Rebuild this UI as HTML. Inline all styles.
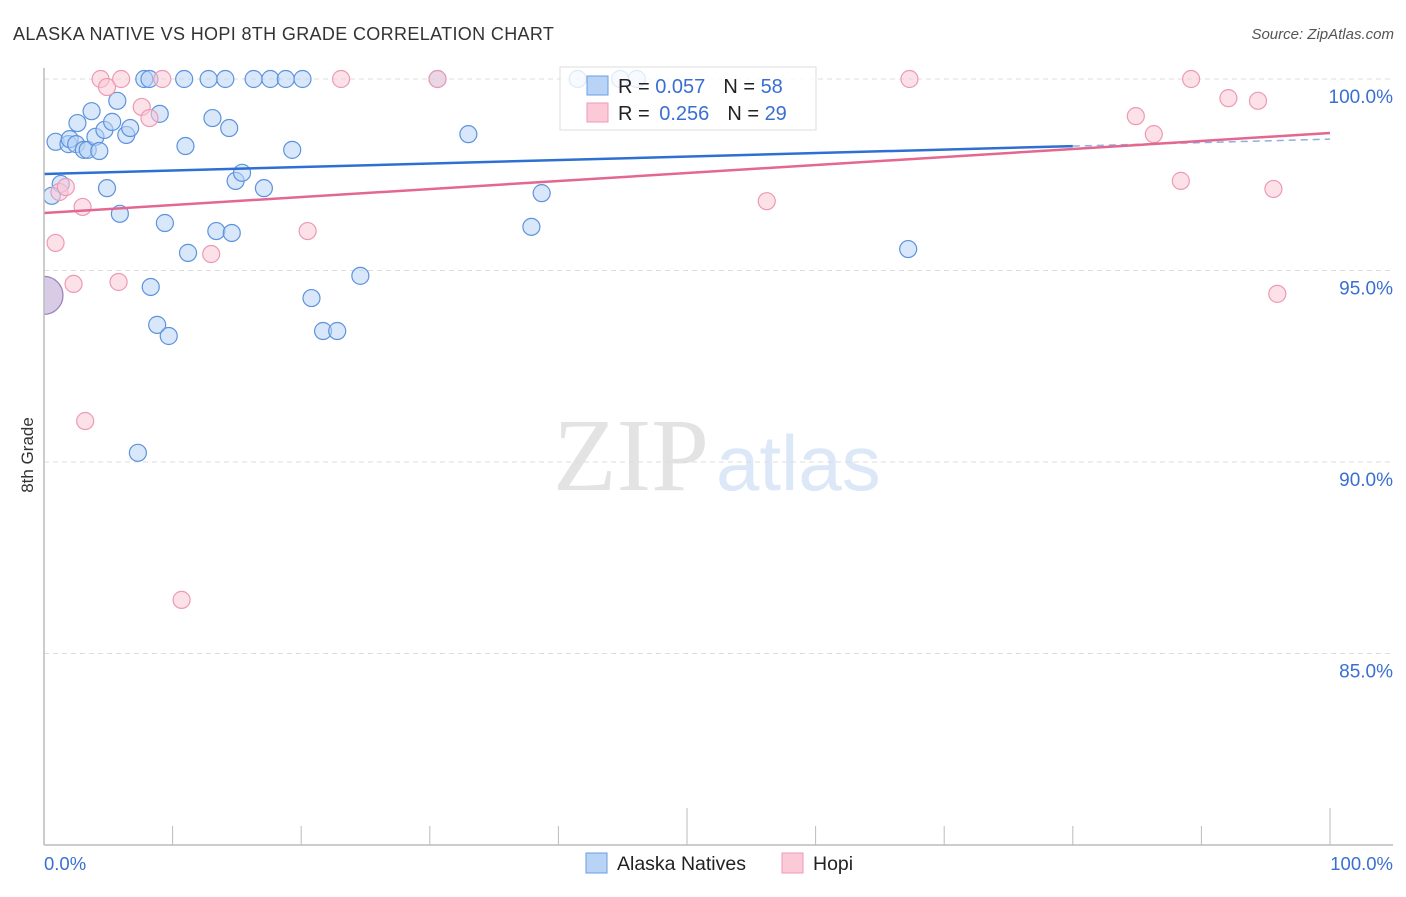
<!DOCTYPE html>
<html><head><meta charset="utf-8"><style>
body{margin:0;background:#fff;width:1406px;height:892px;overflow:hidden;font-family:"Liberation Sans",sans-serif}
</style></head><body>
<svg id="chart" width="1406" height="892" xmlns="http://www.w3.org/2000/svg">
<defs><clipPath id="plotclip"><rect x="44" y="50" width="1360" height="800"/></clipPath></defs>
<text x="13" y="40" font-size="18" fill="#333" letter-spacing="0.35">ALASKA NATIVE VS HOPI 8TH GRADE CORRELATION CHART</text>
<text x="1394" y="39" font-size="15" fill="#555" font-style="italic" text-anchor="end">Source: ZipAtlas.com</text>
<text x="553" y="490" font-family="Liberation Serif,serif" font-size="104" fill="#e3e3e3">ZIP</text>
<text x="716" y="490" font-size="78" fill="#dce8f7">atlas</text>
<text transform="translate(33,455) rotate(-90)" font-size="17" fill="#333" text-anchor="middle">8th Grade</text>
<g id="grid"></g><g id="ticks"></g><g id="marks" clip-path="url(#plotclip)"></g>
<line x1="44" y1="68" x2="44" y2="845" stroke="#bbb" stroke-width="1.5"/>
<line x1="44" y1="845" x2="1393" y2="845" stroke="#bbb" stroke-width="1.5"/>
<g>
<rect x="560" y="67" width="256" height="63" fill="#fff" fill-opacity="0.8" stroke="#ddd"/>
<rect x="587" y="76" width="21" height="19" fill="#b8d3f5" stroke="#6a9de0"/>
<text x="618" y="93" font-size="20" fill="#222">R = <tspan fill="#3a6fd1">0.057</tspan><tspan dx="18">N = </tspan><tspan fill="#3a6fd1">58</tspan></text>
<rect x="587" y="103" width="21" height="19" fill="#fbc9d7" stroke="#ec9ab4"/>
<text x="618" y="120" font-size="20" fill="#222">R = <tspan fill="#3a6fd1" dx="4">0.256</tspan><tspan dx="18">N = </tspan><tspan fill="#3a6fd1">29</tspan></text>
</g>
<text x="44" y="870" font-size="18.5" fill="#3a6fd1">0.0%</text>
<text x="1393" y="870" font-size="18.5" fill="#3a6fd1" text-anchor="end">100.0%</text>
<g>
<rect x="586" y="853" width="21" height="20" fill="#b8d3f5" stroke="#6a9de0"/>
<text x="617" y="870" font-size="19.5" fill="#222">Alaska Natives</text>
<rect x="782" y="853" width="21" height="20" fill="#fbc9d7" stroke="#ec9ab4"/>
<text x="813" y="870" font-size="19.5" fill="#222">Hopi</text>
</g>
</svg>
<script>
const yTicks=[100,95,90,85];
const xTickVals=[0,10,20,30,40,50,60,70,80,90,100];
const blueX=[0.9,1.3,0.6,1.9,2.0,2.5,2.6,3.1,3.4,3.7,4.0,4.3,4.7,4.9,5.3,5.7,5.9,6.4,6.7,7.3,7.8,8.2,8.3,8.8,9.0,9.4,9.7,10.9,11.0,11.2,12.8,13.1,13.4,14.1,14.4,14.6,14.9,15.4,16.3,17.1,17.6,18.8,19.3,20.1,20.8,21.7,22.8,24.6,30.6,33.0,37.9,38.7,41.5,44.8,46.1,67.2];
const blueY=[98.36,97.26,96.95,98.3,98.43,98.3,98.85,98.15,98.15,99.16,98.49,98.12,98.67,97.15,98.88,99.43,96.48,98.54,98.72,90.24,100,100,94.57,93.58,99.09,96.24,93.29,100,98.25,95.46,100,98.98,96.03,100,98.72,95.98,97.34,97.55,100,97.15,100,100,98.15,100,94.28,93.42,93.42,94.86,100,98.56,96.14,97.02,100,100,100,95.56];
const pinkX=[0.9,1.2,1.7,2.3,3.0,3.2,4.4,4.9,5.8,6.0,7.6,8.2,9.2,10.7,13.0,20.5,23.1,30.6,56.2,67.3,84.9,86.3,88.4,89.2,92.1,94.4,95.6,95.9];
const pinkY=[95.72,97.05,97.18,94.65,96.66,91.07,100,99.79,94.7,100,99.27,98.98,100,86.4,95.43,96.03,100,100,96.81,100,99.03,98.56,97.34,100,99.5,99.43,97.13,94.39];
const blueTrend=[97.52,98.43];
const pinkTrend=[96.5,98.59];
const bigX=[0], bigY=[94.35];
const NS='http://www.w3.org/2000/svg';
const sx=v=>44+v*12.86, sy=v=>79+(100-v)*38.3;
function mk(tag,attrs,parent){const e=document.createElementNS(NS,tag);for(const k in attrs)e.setAttribute(k,attrs[k]);document.getElementById(parent).appendChild(e);return e;}
yTicks.forEach(t=>{
 const l=mk('line',{x1:44,x2:1393,y1:sy(t),y2:sy(t),stroke:'#ddd','stroke-dasharray':'5,4'},'grid');
 
 
 const tx=mk('text',{x:1393,y:sy(t)+24,'font-size':19,fill:'#3a6fd1','text-anchor':'end'},'grid');
 tx.textContent=t.toFixed(1)+'%';
 
 
});
xTickVals.forEach(t=>{
 const long=(t===50||t===100);
 const l=mk('line',{x1:sx(t),x2:sx(t),y1:long?808:826,y2:845,stroke:'#bbb'},'ticks');
 
 
});
function dots(xs,ys,fill,stroke,name){xs.forEach((x,i)=>{
 const c=mk('circle',{cx:sx(x),cy:sy(ys[i]),r:8.5,fill:fill,'fill-opacity':0.55,stroke:stroke,'stroke-width':1.2},'marks');
 
 
});}
dots(blueX,blueY,'#b8d3f5','#5d93dc','alaska-native-point');
dots(pinkX,pinkY,'#fbc9d7','#ec9ab4','hopi-point');
bigX.forEach((x,i)=>{
 const c=mk('circle',{cx:sx(x),cy:sy(bigY[i]),r:19,fill:'#c9b9dc','fill-opacity':0.75,stroke:'#9a7fb8','stroke-width':1.2},'marks');
 
 
});
const bt=v=>blueTrend[0]+(blueTrend[1]-blueTrend[0])*v/100;
let l1=mk('line',{x1:sx(0),y1:sy(bt(0)),x2:sx(80),y2:sy(bt(80)),stroke:'#2e6fd2','stroke-width':2.5},'marks');


let l2=mk('line',{x1:sx(80),y1:sy(bt(80)),x2:sx(100),y2:sy(bt(100)),stroke:'#8fb0e0','stroke-width':1.5,'stroke-dasharray':'7,5'},'marks');


let l3=mk('line',{x1:sx(0),y1:sy(pinkTrend[0]),x2:sx(100),y2:sy(pinkTrend[1]),stroke:'#e3678f','stroke-width':2.5},'marks');


</script>
</body></html>
